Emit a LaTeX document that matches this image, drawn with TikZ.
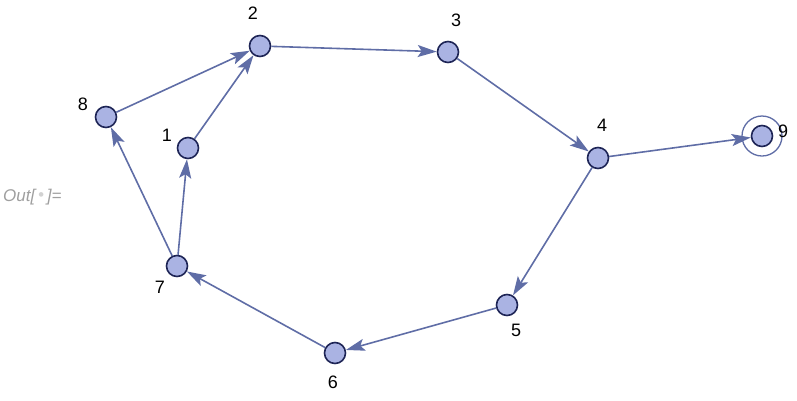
\documentclass[tikz,border=0pt]{standalone}
\usepackage{fontspec}
\setmainfont{Liberation Sans}
\usetikzlibrary{arrows.meta}
\definecolor{vfill}{HTML}{AAB3E3}
\definecolor{vdraw}{HTML}{1E2556}
\definecolor{ecol}{HTML}{5F6DA6}
\begin{document}
\begin{tikzpicture}[x=1pt,y=-1pt,
  vert/.style={circle,draw=vdraw,fill=vfill,line width=1.6pt,minimum size=21pt,inner sep=0pt},
  lab/.style={font=\fontsize{18}{21}\selectfont,inner sep=0pt},
  edge/.style={draw=ecol,line width=1.6pt,-{Stealth[length=19pt,width=12pt,inset=4pt]}},
  loopc/.style={draw=ecol,line width=1.3pt}]
\useasboundingbox (0,0) rectangle (797,400);
\node[text=gray!75,font=\fontsize{17}{20}\selectfont\itshape,anchor=west,inner sep=0pt] (out) at (3,197) {Out[\,\textcolor{gray!35}{\raisebox{0.1ex}{\textbullet}}\,]=};
\node[vert] (n1) at (188,148) {};
\node[vert] (n2) at (260,46) {};
\node[vert] (n3) at (448,52) {};
\node[vert] (n4) at (598,158) {};
\node[vert] (n5) at (507,305) {};
\node[vert] (n6) at (335,353) {};
\node[vert] (n7) at (177,266) {};
\node[vert] (n8) at (106,117) {};
\node[vert] (n9) at (762,136) {};
\draw[loopc] (n9.center) circle (20pt);
\node[lab] (l1) at (167,135) {1};
\node[lab] (l2) at (253,13) {2};
\node[lab] (l3) at (456,20) {3};
\node[lab] (l4) at (602,125) {4};
\node[lab] (l5) at (516,330) {5};
\node[lab] (l6) at (333,382) {6};
\node[lab] (l7) at (160,287) {7};
\node[lab] (l8) at (83,104) {8};
\node[lab] (l9) at (783,131) {9};
\draw[edge] (n8) -- (n2);
\draw[edge] (n1) -- (n2);
\draw[edge] (n2) -- (n3);
\draw[edge] (n3) -- (n4);
\draw[edge] (n4) -- (n9);
\draw[edge] (n4) -- (n5);
\draw[edge] (n5) -- (n6);
\draw[edge] (n6) -- (n7);
\draw[edge] (n7) -- (n8);
\draw[edge] (n7) -- (n1);
\end{tikzpicture}
\end{document}
